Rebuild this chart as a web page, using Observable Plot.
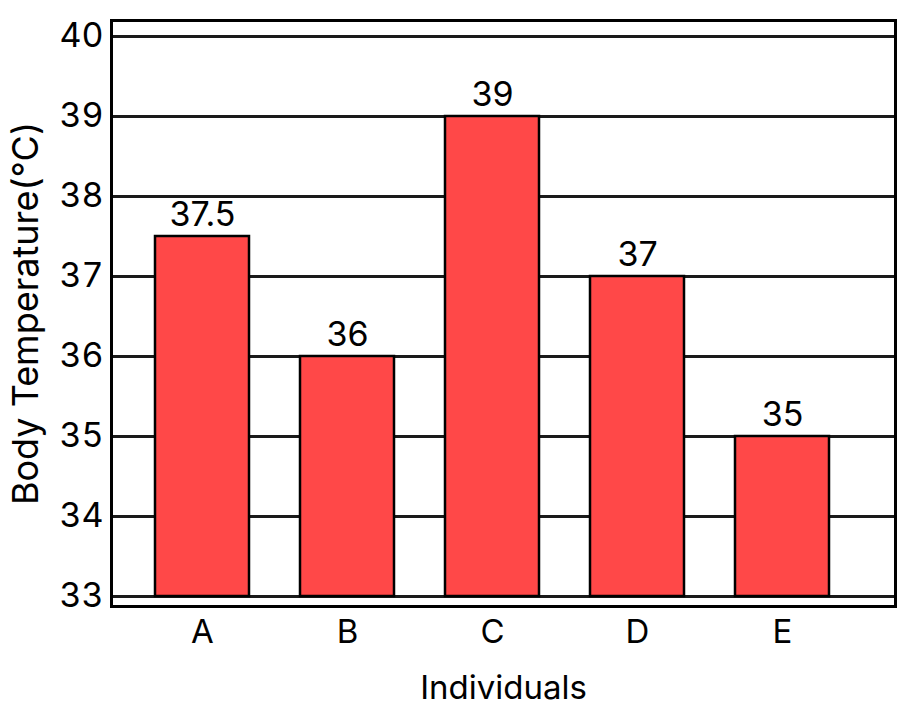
<!DOCTYPE html>
<html><head><meta charset="utf-8">
<script src="https://cdn.jsdelivr.net/npm/d3@7"></script>
<script src="https://cdn.jsdelivr.net/npm/@observablehq/plot@0.6"></script>
<style>body{margin:0;background:#fff;}</style>
</head><body><div id="chart"></div>
<script>
const individuals = ["A", "B", "C", "D", "E"];
const temperatures = [37.5, 36, 39, 37, 35];
const valueLabels = ["37.5", "36", "39", "37", "35"];
const yTicks = [33, 34, 35, 36, 37, 38, 39, 40];
const baseline = 33;

const data = individuals.map((name, i) => ({name, temp: temperatures[i], label: valueLabels[i]}));

const chart = Plot.plot({
  width: 922, height: 713,
  marginLeft: 111, marginRight: 27, marginTop: 20, marginBottom: 107,
  style: {fontFamily: "Inter, sans-serif", background: "#fff", color: "#000"},
  x: {domain: individuals, range: [155, 829], paddingInner: 0.352, paddingOuter: 0},
  y: {domain: [32.875, 40.2]},
  marks: [
    Plot.ruleY(yTicks, {stroke: "#1a1a1a", strokeWidth: 3}),
    Plot.barY(data, {x: "name", y1: baseline, y2: "temp", fill: "#ff4848", stroke: "#000", strokeWidth: 2.5}),
    Plot.text(data, {x: "name", y: "temp", text: "label", dy: -11, lineAnchor: "bottom", fontSize: 34, fill: "#000"}),
    Plot.axisY({ticks: yTicks, tickSize: 0, tickPadding: 8, fontSize: 34, label: null}),
    Plot.axisY({ticks: [], fontSize: 36, label: "Body Temperature(°C)", labelAnchor: "center", labelArrow: "none", labelOffset: 99}),
    Plot.axisX({tickSize: 0, tickPadding: 13, fontSize: 33, label: "Individuals", labelAnchor: "center", labelArrow: "none", labelOffset: 92}),
    Plot.frame({stroke: "#000", strokeWidth: 3})
  ]
});
document.getElementById("chart").appendChild(chart);
</script>
</body></html>
